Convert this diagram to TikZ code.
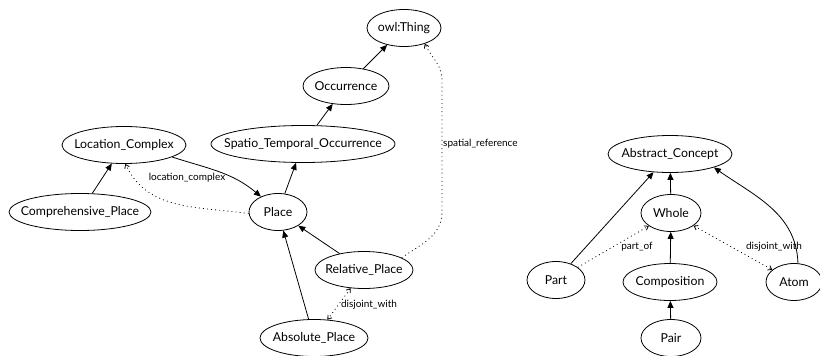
\documentclass[tikz,border=0pt]{standalone}
\usepackage{fontspec}
\setmainfont{Lato}
\usetikzlibrary{arrows.meta,shapes.geometric}
% zero-width label so the ellipse keeps the size given by minimum width
\newcommand{\cname}[1]{\makebox[0pt]{#1}}
\begin{document}
\begin{tikzpicture}[x=1pt,y=-1pt,
  concept/.style={draw,ellipse,line width=0.8pt,inner sep=0pt,minimum height=37pt,font=\fontsize{12.3}{13}\selectfont},
  isa/.style={line width=0.8pt,-{Triangle[length=7pt,width=6pt]}},
  rel/.style={line width=0.8pt,dash pattern=on 0.9pt off 3.2pt,-{Straight Barb[length=3.5pt,width=5pt]}},
  relboth/.style={rel,{Straight Barb[length=3.5pt,width=5pt]}-{Straight Barb[length=3.5pt,width=5pt]}},
  lbl/.style={font=\fontsize{10}{11}\selectfont,inner sep=1pt}]
\useasboundingbox (0,0) rectangle (820,356);

% spatial concepts
\node[concept,minimum width=74pt]  (owl)   at (404,28)  {\cname{owl:Thing}};
\node[concept,minimum width=86pt]  (occ)   at (346,86)  {\cname{Occurrence}};
\node[concept,minimum width=124pt] (lc)    at (124,145) {\cname{Location\_Complex}};
\node[concept,minimum width=184pt] (sto)   at (303,144) {\cname{Spatio\_Temporal\_Occurrence}};
\node[concept,minimum width=142pt] (cp)    at (80,212)  {\cname{Comprehensive\_Place}};
\node[concept,minimum width=58pt]  (place) at (278,212) {\cname{Place}};
\node[concept,minimum width=98pt]  (rp)    at (364,270) {\cname{Relative\_Place}};
\node[concept,minimum width=108pt] (ap)    at (314,338) {\cname{Absolute\_Place}};

% abstract concepts
\node[concept,minimum width=124pt] (ac)    at (670,154) {\cname{Abstract\_Concept}};
\node[concept,minimum width=60pt]  (whole) at (671,213) {\cname{Whole}};
\node[concept,minimum width=58pt]  (part)  at (556,280) {\cname{Part}};
\node[concept,minimum width=94pt]  (comp)  at (670,282) {\cname{Composition}};
\node[concept,minimum width=56pt]  (atom)  at (794,282) {\cname{Atom}};
\node[concept,minimum width=60pt]  (pair)  at (671,338) {\cname{Pair}};

% subclass links
\draw[isa] (occ) -- (owl);
\draw[isa] (sto) -- (occ);
\draw[isa] (place) -- (sto);
\draw[isa] (cp) -- (lc);
\draw[isa] (lc.-14) to[out=-18,in=140] (place.138);
\draw[isa] (rp) -- (place);
\draw[isa] (ap) -- (place);

\draw[isa] (whole) -- (ac);
\draw[isa] (comp) -- (whole);
\draw[isa] (pair) -- (comp);
\draw[isa] (part) -- (ac);
\draw[isa] (atom.78) to[out=92,in=-35] (ac.-17);

% object properties
\draw[rel] (place.183) to[out=172,in=-65] (lc.-86);
\node[lbl] (l1) at (187,178) {location\_complex};

\draw[relboth] (rp) -- (ap);
\node[lbl] (l2) at (369,305) {disjoint\_with};

\coordinate (sr1) at (442,212);
\coordinate (sr2) at (442,80);
\draw[rel] (rp.18) to[out=35,in=-90] (sr1) -- (sr2) to[out=90,in=-65] (owl.-37);
\node[lbl,anchor=west] (l3) at (442,144) {spatial\_reference};

\draw[rel] (part) -- (whole);
\node[lbl] (l4) at (637,247) {part\_of};

\draw[relboth] (whole) -- (atom);
\node[lbl] (l5) at (774,247) {disjoint\_with};
\end{tikzpicture}
\end{document}
